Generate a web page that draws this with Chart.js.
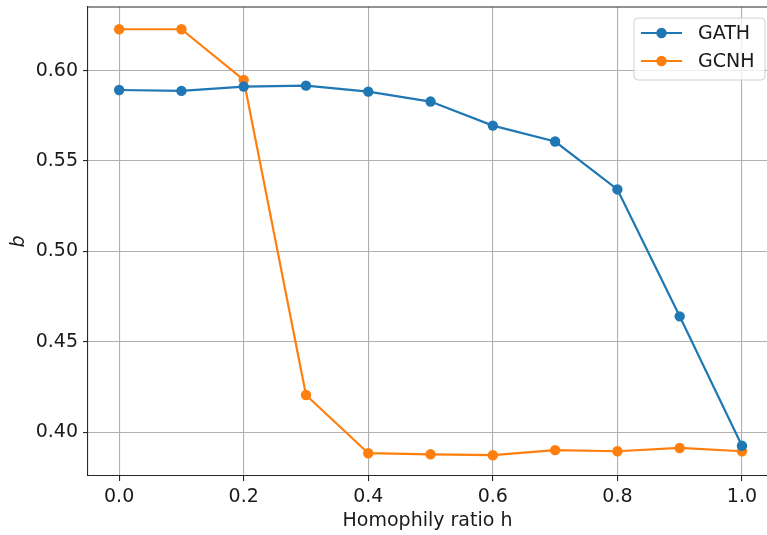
<!DOCTYPE html>
<html>
<head>
<meta charset="utf-8">
<script src="https://cdn.jsdelivr.net/npm/chart.js@4.4.1/dist/chart.umd.min.js"></script>
<style>
  html, body { margin: 0; padding: 0; background: #fff; }
  #wrap { width: 767px; height: 535px; position: relative; }
</style>
</head>
<body>
<div id="wrap"><canvas id="c" width="767" height="535"></canvas></div>
<script>
const homophily = [0.0, 0.1, 0.2, 0.3, 0.4, 0.5, 0.6, 0.7, 0.8, 0.9, 1.0];
const gath = [0.5893, 0.5888, 0.5912, 0.5917, 0.5884, 0.5829, 0.5696, 0.5608, 0.5343, 0.4641, 0.3925];
const gcnh = [0.6229, 0.6229, 0.5949, 0.4206, 0.3884, 0.3878, 0.3873, 0.3901, 0.3895, 0.3913, 0.3895];
const xTicks = [0.0, 0.2, 0.4, 0.6, 0.8, 1.0];
const yTicks = [0.40, 0.45, 0.50, 0.55, 0.60];
const seriesNames = ['GATH', 'GCNH'];
const seriesColors = ['#1f77b4', '#ff7f0e'];

const FONT = "'DejaVu Sans', sans-serif";

function zeroPad(scale) {
  scale.paddingTop = 0;
  scale.paddingBottom = 0;
  scale.paddingLeft = 0;
  scale.paddingRight = 0;
}

const frameAndLegend = {
  id: 'frameAndLegend',
  afterDraw(chart) {
    const ctx = chart.ctx;
    const a = chart.chartArea;
    ctx.save();
    // top spine
    ctx.strokeStyle = '#262626';
    ctx.lineWidth = 1.1;
    ctx.beginPath();
    ctx.moveTo(a.left, a.top);
    ctx.lineTo(a.right, a.top);
    ctx.stroke();

    // legend
    const bx = 634, by = 18, bw = 131, bh = 62, r = 4;
    ctx.beginPath();
    ctx.moveTo(bx + r, by);
    ctx.lineTo(bx + bw - r, by);
    ctx.quadraticCurveTo(bx + bw, by, bx + bw, by + r);
    ctx.lineTo(bx + bw, by + bh - r);
    ctx.quadraticCurveTo(bx + bw, by + bh, bx + bw - r, by + bh);
    ctx.lineTo(bx + r, by + bh);
    ctx.quadraticCurveTo(bx, by + bh, bx, by + bh - r);
    ctx.lineTo(bx, by + r);
    ctx.quadraticCurveTo(bx, by, bx + r, by);
    ctx.closePath();
    ctx.fillStyle = 'rgba(255,255,255,0.8)';
    ctx.fill();
    ctx.strokeStyle = '#d0d0d0';
    ctx.lineWidth = 1;
    ctx.stroke();

    chart.data.datasets.forEach((ds, i) => {
      const y = 33 + i * 28;
      ctx.strokeStyle = ds.borderColor;
      ctx.lineWidth = 2.2;
      ctx.beginPath();
      ctx.moveTo(641, y);
      ctx.lineTo(682, y);
      ctx.stroke();
      ctx.fillStyle = ds.borderColor;
      ctx.beginPath();
      ctx.arc(661.5, y, 5.2, 0, Math.PI * 2);
      ctx.fill();
      ctx.fillStyle = '#1a1a1a';
      ctx.font = "19px " + FONT;
      ctx.textBaseline = 'middle';
      ctx.textAlign = 'left';
      ctx.fillText(ds.label, 698, y + 1);
    });
    ctx.restore();
  }
};

new Chart(document.getElementById('c'), {
  type: 'line',
  data: {
    datasets: [
      {
        label: seriesNames[0],
        data: homophily.map((x, i) => ({ x: x, y: gath[i] })),
        borderColor: seriesColors[0],
        backgroundColor: seriesColors[0],
        borderWidth: 2.2,
        pointRadius: 5.2,
        pointHoverRadius: 5.2,
        pointBorderWidth: 0,
        tension: 0,
        fill: false
      },
      {
        label: seriesNames[1],
        data: homophily.map((x, i) => ({ x: x, y: gcnh[i] })),
        borderColor: seriesColors[1],
        backgroundColor: seriesColors[1],
        borderWidth: 2.2,
        pointRadius: 5.2,
        pointHoverRadius: 5.2,
        pointBorderWidth: 0,
        tension: 0,
        fill: false
      }
    ]
  },
  options: {
    responsive: false,
    animation: false,
    devicePixelRatio: 1,
    layout: { autoPadding: false, padding: { top: 7, right: 0, left: 0, bottom: 0 } },
    plugins: { legend: { display: false }, tooltip: { enabled: false } },
    scales: {
      x: {
        type: 'linear',
        min: -0.05,
        max: 1.0402,
        afterBuildTicks(scale) { scale.ticks = xTicks.map(v => ({ value: v })); },
        afterFit(scale) { scale.height = 59; zeroPad(scale); },
        ticks: {
          callback: v => Number(v).toFixed(1),
          font: { family: FONT, size: 19 },
          color: '#1a1a1a',
          padding: 5,
          maxRotation: 0,
          autoSkip: false
        },
        grid: { color: '#b0b0b0', lineWidth: 1.1, tickColor: '#262626', tickLength: 5, drawTicks: true },
        border: { color: '#262626', width: 1.1 },
        title: {
          display: true,
          text: 'Homophily ratio h',
          font: { family: FONT, size: 19 },
          color: '#1a1a1a',
          padding: { top: 0, bottom: 3 }
        }
      },
      y: {
        type: 'linear',
        min: 0.3758,
        max: 0.6352,
        afterBuildTicks(scale) { scale.ticks = yTicks.map(v => ({ value: v })); },
        afterFit(scale) { scale.width = 88; zeroPad(scale); },
        ticks: {
          callback: v => Number(v).toFixed(2),
          font: { family: FONT, size: 19 },
          color: '#1a1a1a',
          padding: 5
        },
        grid: { color: '#b0b0b0', lineWidth: 1.1, tickColor: '#262626', tickLength: 5, drawTicks: true },
        border: { color: '#262626', width: 1.1 },
        title: {
          display: true,
          text: 'b',
          font: { family: FONT, size: 19, style: 'italic' },
          color: '#1a1a1a',
          padding: { top: 8, bottom: 0 }
        }
      }
    }
  },
  plugins: [frameAndLegend]
});
</script>
</body>
</html>
